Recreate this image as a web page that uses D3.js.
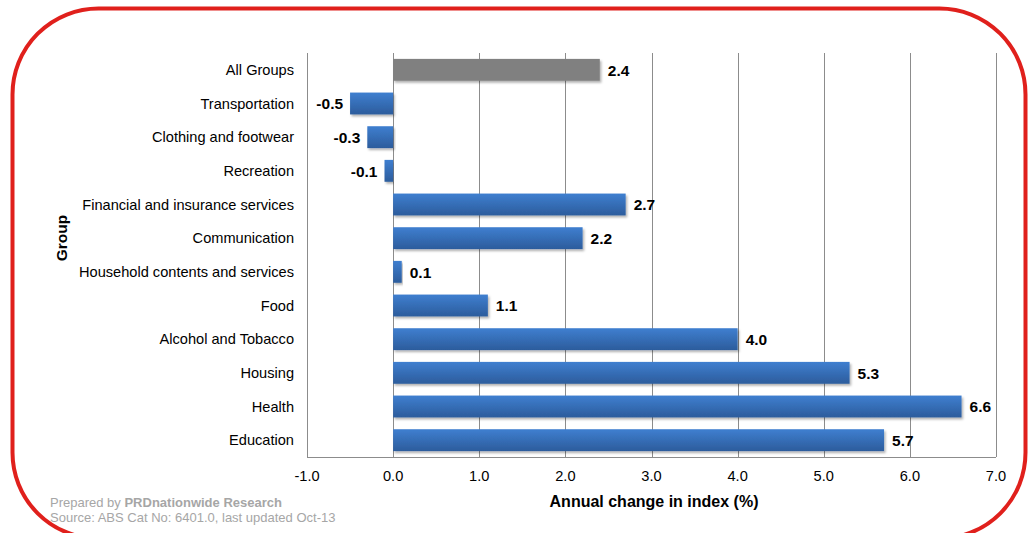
<!DOCTYPE html>
<html><head><meta charset="utf-8">
<script src="https://cdn.jsdelivr.net/npm/d3@7"></script>
<style>body{margin:0;background:#fff}svg{display:block;font-family:"Liberation Sans",Arial,sans-serif}</style>
</head><body><svg id="c" width="1035" height="533"></svg>
<script>
const categories = ["All Groups","Transportation","Clothing and footwear","Recreation","Financial and insurance services","Communication","Household contents and services","Food","Alcohol and Tobacco","Housing","Health","Education"];
const values = [2.4,-0.5,-0.3,-0.1,2.7,2.2,0.1,1.1,4.0,5.3,6.6,5.7];
const xTicks = [-1,0,1,2,3,4,5,6,7];

const svg = d3.select("#c");
const defs = svg.append("defs");
const g1 = defs.append("linearGradient").attr("id","blue").attr("x1",0).attr("y1",0).attr("x2",0).attr("y2",1);
g1.append("stop").attr("offset","0%").attr("stop-color","#3f7fd0");
g1.append("stop").attr("offset","100%").attr("stop-color","#2c5c9c");
const f = defs.append("filter").attr("id","sh").attr("x","-5%").attr("y","-20%").attr("width","115%").attr("height","160%");
f.append("feDropShadow").attr("dx",1.5).attr("dy",2).attr("stdDeviation",1.2).attr("flood-color","#000").attr("flood-opacity",0.3);

// red rounded frame
svg.append("rect").attr("x",12.5).attr("y",8.5).attr("width",1013).attr("height",530).attr("rx",86).attr("ry",86)
  .attr("fill","none").attr("stroke","#e0201c").attr("stroke-width",4);

const L=307, R=996, T=53, B=457;
const x = d3.scaleLinear().domain([-1,7]).range([L,R]);
const y = d3.scaleBand().domain(categories).range([T,B]).paddingInner(0.35).paddingOuter(0.175);

// grid
svg.append("g").selectAll("line").data(xTicks).join("line")
  .attr("x1",d=>Math.round(x(d))+0.5).attr("x2",d=>Math.round(x(d))+0.5).attr("y1",T).attr("y2",B)
  .attr("stroke","#8c8c8c").attr("stroke-width",1);
svg.append("line").attr("x1",L).attr("x2",R).attr("y1",B+0.5).attr("y2",B+0.5).attr("stroke","#8c8c8c");

// bars
svg.append("g").selectAll("rect").data(values).join("rect")
  .attr("x",(d)=>x(Math.min(0,d))).attr("width",d=>Math.abs(x(d)-x(0)))
  .attr("y",(d,i)=>y(categories[i])).attr("height",y.bandwidth())
  .attr("fill",(d,i)=>i===0?"#808080":"url(#blue)").attr("filter","url(#sh)");

// value labels
svg.append("g").selectAll("text").data(values).join("text")
  .attr("x",d=>d>=0?x(d)+8:x(d)-7).attr("y",(d,i)=>y(categories[i])+y.bandwidth()/2)
  .attr("dy","0.38em").attr("text-anchor",d=>d>=0?"start":"end")
  .attr("font-size",15.5).attr("font-weight","bold").attr("fill","#000")
  .text(d=>d.toFixed(1));

// category labels
svg.append("g").selectAll("text").data(categories).join("text")
  .attr("x",294).attr("y",d=>y(d)+y.bandwidth()/2).attr("dy","0.35em")
  .attr("text-anchor","end").attr("font-size",14.6).attr("fill","#000").text(d=>d);

// x tick labels
svg.append("g").selectAll("text").data(xTicks).join("text")
  .attr("x",d=>x(d)).attr("y",481).attr("text-anchor","middle").attr("font-size",14.6).attr("fill","#000")
  .text(d=>d.toFixed(1));

svg.append("text").attr("x",654).attr("y",507).attr("text-anchor","middle").attr("font-size",16).attr("font-weight","bold").text("Annual change in index (%)");
svg.append("text").attr("transform","translate(67,238) rotate(-90)").attr("text-anchor","middle").attr("font-size",15.5).attr("font-weight","bold").text("Group");

const ft = svg.append("text").attr("x",50).attr("y",507).attr("font-size",13).attr("fill","#a6a6a6");
ft.append("tspan").text("Prepared by ");
ft.append("tspan").attr("font-weight","bold").text("PRDnationwide Research");
svg.append("text").attr("x",50).attr("y",522).attr("font-size",13).attr("fill","#a6a6a6").text("Source: ABS Cat No: 6401.0, last updated Oct-13");
</script></body></html>
